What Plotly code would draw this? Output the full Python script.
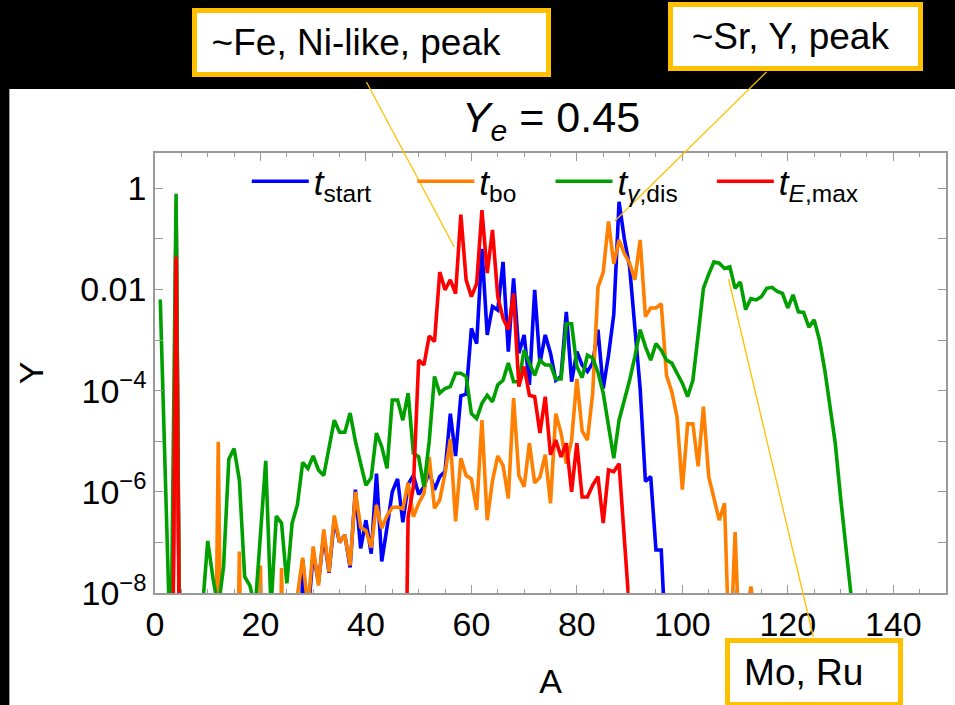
import plotly.graph_objects as go

# ---------------- data ----------------
ZERO = 1e-14  # stands for "no abundance" (drawn below the axis)

a_start = [3, 4, 5, 27, 28, 29, 30, 31, 32, 33, 34, 35, 36, 37, 38, 39, 40, 41, 42, 43, 44,
           45, 46, 47, 48, 49, 50, 51, 52, 53, 54, 55, 56, 57, 58, 59, 60, 61, 62, 63, 64,
           65, 66, 67, 68, 69, 70, 71, 72, 73, 74, 75, 76, 77, 78, 79, 80, 81, 82, 83, 84,
           85, 86, 87, 88, 89, 90, 91, 92, 93, 94, 95, 96, 97]
y_start = [ZERO, 0.4, ZERO, ZERO, 4.5e-8, 3.2e-9, 6.3e-8, 1.6e-8, 1.4e-7, 2.5e-8, 2.8e-7,
           1.0e-7, 1.4e-7, 3.2e-8, 1.1e-6, 7.6e-8, 2.75e-7, 6.0e-8, 2.3e-6, 4.2e-8, 2.0e-7,
           1.0e-6, 1.8e-6, 2.5e-7, 1.4e-6, 2.1e-6, 8.9e-7, 1.26e-6, 2.5e-6, 1.1e-6, 2.0e-6,
           2.5e-6, 3.5e-5, 5.1e-6, 7.9e-5, 8.5e-5, 1.7e-3, 8.5e-4, 6.3e-2, 1.26e-3, 4.6e-3,
           3.9e-3, 3.5e-2, 5.9e-4, 1.66e-2, 5.5e-4, 1.26e-3, 1.3e-4, 9.8e-3, 3.5e-4, 1.26e-3,
           5.5e-4, 1.6e-4, 1.9e-4, 3.6e-3, 1.5e-4, 5.9e-4, 3.2e-4, 2.4e-4, 3.5e-4, 1.6e-3,
           1.1e-4, 5.0e-4, 3.2e-3, 0.54, 0.1, 2.8e-2, 1.6e-3, 1.1e-4, 1.6e-6, 2.0e-6,
           7.1e-8, 7.1e-8, 5e-10]

a_bo = [3, 4, 5, 11, 12, 13, 15, 16, 17, 19, 20, 21, 23, 24, 25, 26, 27, 28, 29, 30, 31, 32,
        33, 34, 35, 36, 37, 38, 39, 40, 41, 42, 43, 44, 45, 46, 47, 48, 49, 50, 51, 52, 53,
        54, 55, 56, 57, 58, 59, 60, 61, 62, 63, 64, 65, 66, 67, 68, 69, 70, 71, 72, 73, 74,
        75, 76, 77, 78, 79, 80, 81, 82, 83, 84, 85, 86, 87, 88, 89, 90, 91, 92, 93, 94, 95,
        96, 97, 98, 99, 100, 101, 102, 103, 104, 105, 106, 107, 108, 109, 110, 111, 112,
        113, 114]
y_bo = [ZERO, 0.5, ZERO, ZERO, 9.8e-6, ZERO, ZERO, 6.6e-8, ZERO, ZERO, 3.5e-8, ZERO, ZERO,
        3.1e-8, ZERO, ZERO, 8.9e-9, 5.0e-8, 5.0e-9, 8.3e-8, 1.4e-8, 1.8e-7, 2.6e-8, 3.4e-7,
        1.0e-7, 1.4e-7, 3.5e-8, 1.0e-6, 2.0e-7, 1.7e-7, 7.9e-8, 5.5e-7, 1.9e-7, 3.4e-7,
        4.9e-7, 5.0e-7, 4.6e-7, 1.5e-6, 3.2e-7, 5.9e-7, 9.3e-7, 4.9e-6, 4.7e-7, 6.9e-7,
        2.3e-6, 1.1e-5, 2.6e-7, 4.6e-6, 2.1e-6, 1.8e-6, 4.4e-7, 2.6e-5, 2.75e-7, 1.66e-6,
        5.1e-6, 3.3e-6, 7.4e-7, 7.1e-5, 2.1e-6, 1.26e-6, 9.1e-6, 1.5e-6, 1.95e-6, 5.4e-6,
        5.9e-7, 3.5e-5, 1.45e-5, 3.6e-6, 1.05e-5, 1.7e-4, 1.6e-5, 1.05e-5, 8.9e-5, 1.1e-2,
        2.2e-2, 0.22, 3.2e-2, 9.5e-2, 5.1e-2, 3.3e-2, 1.55e-2, 9.5e-2, 2.9e-3, 4.3e-3,
        4.3e-3, 5.2e-3, 2.0e-4, 9.5e-5, 3.0e-5, 1.1e-6, 2.2e-5, 2.2e-5, 3.2e-6, 4.8e-5,
        2.0e-6, 6.9e-7, 2.75e-7, 5.9e-7, 3e-10, 1.6e-7, 3e-10, 2.5e-9, 1.35e-8, 2.5e-9]

a_gdis = list(range(1, 133))
y_gdis = [6.3e-3, 2.0e-6, 3.2e-10, 0.78, ZERO, ZERO, ZERO, ZERO, 5.0e-9, 1.07e-7,
          1.95e-8, 5.0e-9, 3.3e-8, 4.4e-6, 7.2e-6, 1.7e-6, 2.1e-8, 1.4e-8, 5.0e-9, 1.26e-7,
          4.1e-6, 5.0e-9, 3.3e-7, 2.4e-7, 1.55e-8, 2.4e-7, 5.5e-7, 3.8e-6, 2.9e-6, 5.1e-6,
          2.7e-6, 2.1e-6, 7.9e-6, 2.6e-5, 1.5e-5, 1.5e-5, 3.6e-5, 1.0e-5, 3.6e-6, 1.35e-6,
          1.9e-6, 1.45e-5, 7.8e-6, 2.9e-6, 6.5e-5, 6.5e-5, 2.6e-5, 8.9e-5, 5.8e-6, 4.9e-6,
          1.26e-6, 1.0e-5, 1.9e-4, 8.9e-5, 1.1e-4, 1.2e-4, 2.2e-4, 2.2e-4, 1.9e-4, 3.5e-5,
          2.8e-5, 5.6e-5, 8.1e-5, 6.0e-5, 1.3e-4, 1.6e-4, 3.5e-4, 1.5e-4, 1.5e-4, 6.3e-4,
          3.5e-4, 2.0e-4, 4.0e-4, 3.2e-4, 3.2e-4, 1.7e-4, 1.7e-4, 2.1e-3, 2.1e-3, 3.0e-4,
          1.8e-4, 5.0e-4, 4.4e-4, 2.3e-4, 8.9e-5, 1.95e-5, 4.6e-6, 2.6e-5, 6.5e-5, 1.6e-4,
          4.7e-4, 1.6e-3, 7.4e-4, 4.0e-4, 8.5e-4, 6.3e-4, 4.0e-4, 3.5e-4, 2.2e-4, 1.4e-4,
          7.6e-5, 1.6e-4, 1.26e-3, 1.05e-2, 2.0e-2, 3.5e-2, 3.3e-2, 2.6e-2, 2.8e-2, 1.05e-2,
          1.4e-2, 4.0e-3, 6.6e-3, 6.2e-3, 7.2e-3, 1.05e-2, 1.1e-2, 9.1e-3, 8.3e-3, 4.3e-3,
          7.8e-3, 3.6e-3, 3.5e-3, 1.8e-3, 2.5e-3, 1.0e-3, 2.6e-4, 4.8e-5, 9.1e-6, 7.9e-7,
          8.3e-8, 8.9e-9]

a_emax = [3, 4, 5, 47, 48, 49, 50, 51, 52, 53, 54, 55, 56, 57, 58, 59, 60, 61, 62, 63, 64,
          65, 66, 67, 68, 69, 70, 71, 72, 73, 74, 75, 76, 77, 78, 79, 80, 81, 82, 83, 84,
          85, 86, 87, 88, 89, 90]
y_emax = [ZERO, 0.044, ZERO, ZERO, 3.2e-7, 1.26e-6, 4.0e-4, 3.2e-4, 1.2e-3, 9.3e-4,
          2.2e-2, 9.8e-3, 1.55e-2, 8.3e-3, 0.3, 1.55e-2, 7.2e-3, 1.3e-2, 0.37, 2.1e-2, 0.15,
          7.2e-3, 2.7e-3, 1.6e-3, 8.3e-3, 1.2e-4, 3.0e-4, 8.1e-5, 7.6e-5, 1.45e-5, 7.6e-5,
          5.4e-6, 1.05e-5, 4.9e-6, 9.1e-6, 1.0e-6, 9.1e-6, 7.9e-7, 7.9e-7, 1.35e-6, 2.0e-6,
          2.4e-7, 2.7e-6, 2.5e-6, 3.6e-6, 1.26e-7, 4.0e-9]

NB3 = "&nbsp;" * 3
series_names = ["<i>t</i><sub>start</sub>" + NB3 + "&#8201;", "<i>t</i><sub>bo</sub>" + NB3,
                "<i>t</i><sub><i>γ</i>,dis</sub>" + NB3, "<i>t</i><sub><i>E</i>,max</sub>"]
series_colors = ["#0000ff", "#ff7f00", "#00a000", "#ff0000"]

x_tick_vals = [0, 20, 40, 60, 80, 100, 120, 140]
y_tick_vals = [1e-8, 1e-6, 1e-4, 1e-2, 1]
y_tick_text = ["10<sup>−8</sup>", "10<sup>−6</sup>", "10<sup>−4</sup>", "0.01", "1"]
y_minor_vals = [1e-7, 1e-5, 1e-3, 1e-1]

callouts = ["~Fe, Ni-like, peak", "~Sr, Y, peak", "Mo, Ru"]

# ---------------- figure ----------------
W, H = 955, 705
L, R, T, B = 155, 7, 153, 112
PW, PH = W - L - R, H - T - B


def px(xp):
    return (xp - L) / PW


def py(yp):
    return (H - B - yp) / PH


FONT = "Liberation Sans, Arial, sans-serif"
GOLD = "#ffc000"
FRAME = "#9a9a9a"

fig = go.Figure()
for a, y, name, col in zip([a_start, a_bo, a_gdis, a_emax],
                           [y_start, y_bo, y_gdis, y_emax],
                           series_names, series_colors):
    fig.add_trace(go.Scatter(x=a, y=y, mode="lines", name=name,
                             line=dict(color=col, width=3.6)))

fig.update_layout(
    width=W, height=H, autosize=False,
    margin=dict(l=L, r=R, t=T, b=B, pad=0),
    paper_bgcolor="black", plot_bgcolor="white",
    font=dict(family=FONT, color="black", size=32),
    title=dict(text="<i>Y</i><sub><i>e</i></sub> = 0.45", x=551 / W, xref="container",
               xanchor="center", y=1 - 117 / H, yref="container", yanchor="middle",
               font=dict(size=43, family=FONT, color="black")),
    showlegend=True,
    legend=dict(orientation="h", x=px(247), y=py(152), xanchor="left", yanchor="top",
                bgcolor="rgba(0,0,0,0)", font=dict(size=35, family=FONT, color="black"),
                itemwidth=57),
    xaxis=dict(range=[0, 150], tickvals=x_tick_vals, ticks="inside", ticklen=8,
               tickwidth=1.3, tickcolor=FRAME, showline=True, linecolor=FRAME,
               linewidth=1.5, mirror="ticks", showgrid=False, zeroline=False,
               tickfont=dict(size=34, family=FONT, color="black"),
               minor=dict(dtick=5, ticks="inside", ticklen=4, tickcolor=FRAME,
                          showgrid=False),
               title=dict(text="A", font=dict(size=34, family=FONT, color="black"),
                          standoff=28)),
    yaxis=dict(type="log", range=[-8, 0.696], tickvals=y_tick_vals, ticktext=y_tick_text,
               ticks="inside", ticklen=8, tickwidth=1.3, tickcolor=FRAME, showline=True,
               linecolor=FRAME, linewidth=1.5, mirror="ticks", showgrid=False,
               zeroline=False, tickfont=dict(size=34, family=FONT, color="black"),
               minor=dict(tickvals=y_minor_vals, ticks="inside", ticklen=8,
                          tickcolor=FRAME, showgrid=False),
               title=dict(text="Y", font=dict(size=34, family=FONT, color="black"),
                          standoff=26)),
)

# white slide area behind the chart
fig.add_shape(type="rect", xref="paper", yref="paper", x0=px(9), x1=px(960),
              y0=py(710), y1=py(89), fillcolor="white", line=dict(width=0),
              layer="below")

# call-out pointer lines
for (x0, y0, x1, y1) in [(367, 82, 455, 247), (768, 72, 616, 221), (730, 279, 815, 637)]:
    fig.add_shape(type="line", xref="paper", yref="paper", x0=px(x0), y0=py(y0),
                  x1=px(x1), y1=py(y1), line=dict(color=GOLD, width=1.3))

# call-out boxes
boxes = [(callouts[0] + "&nbsp;&nbsp;&nbsp;", 193, 552, 8, 77),
         (callouts[1] + "&nbsp;", 670, 925, 2, 71),
         (callouts[2] + "&nbsp;&nbsp;", 727, 905, 638, 707)]
for text, x0, x1, y0, y1 in boxes:
    fig.add_annotation(text=text, xref="paper", yref="paper",
                       x=px((x0 + x1) / 2), y=py((y0 + y1) / 2),
                       xanchor="center", yanchor="middle", showarrow=False,
                       width=x1 - x0 - 10, height=y1 - y0 - 10, align="center",
                       bgcolor="white", bordercolor=GOLD, borderwidth=5, borderpad=0,
                       font=dict(size=37, family=FONT, color="black"))

fig.write_html("out.html")
